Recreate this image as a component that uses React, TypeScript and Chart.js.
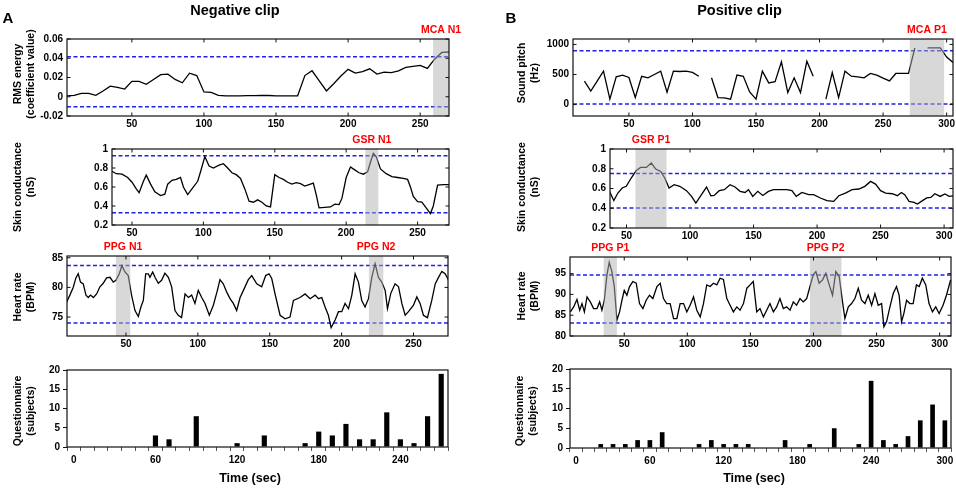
import { useEffect, useRef } from "react"
import { Chart, registerables } from "chart.js"

Chart.register(...registerables)

const FONT = "'Liberation Sans', Arial, Helvetica, sans-serif"

// ---------- A: negative clip ----------
const rmsTime = [5, 10, 15, 20, 25, 30, 35, 40, 45, 50, 55, 60, 65, 70, 75, 80, 85, 90, 95, 100, 105, 110, 115, 120, 125, 130, 135, 140, 145, 150, 155, 160, 165, 170, 175, 180, 185, 190, 195, 200, 205, 210, 215, 220, 225, 230, 235, 240, 245, 250, 255, 260, 265, 270]
const rmsValue = [0.001, 0.0015, 0.0035, 0.0035, 0.0015, 0.006, 0.011, 0.0098, 0.008, 0.016, 0.016, 0.013, 0.018, 0.023, 0.0235, 0.018, 0.0145, 0.0245, 0.022, 0.005, 0.0045, 0.0015, 0.001, 0.001, 0.001, 0.0012, 0.0012, 0.0015, 0.0013, 0.001, 0.001, 0.001, 0.001, 0.022, 0.027, 0.0165, 0.006, 0.0135, 0.0215, 0.0285, 0.0245, 0.026, 0.029, 0.0235, 0.0255, 0.025, 0.027, 0.0305, 0.0315, 0.0325, 0.0295, 0.039, 0.046, 0.0465]

const scNegTime = [36, 39, 43, 47, 50, 53, 55, 58, 60, 63, 66, 70, 73, 75, 78, 81, 84, 86, 89, 92, 96, 98, 101, 104, 107, 111, 114, 117, 120, 123, 126, 129, 132, 135, 138, 141, 144, 147, 150, 153, 156, 159, 162, 165, 168, 171, 174, 177, 179, 181, 185, 189, 192, 195, 197, 200, 203, 206, 209, 212, 215, 217, 219, 221, 224, 228, 232, 236, 240, 243, 245, 247, 250, 253, 256, 259, 261, 264, 268, 272]
const scNegValue = [0.765, 0.74, 0.735, 0.7, 0.65, 0.58, 0.54, 0.66, 0.725, 0.63, 0.55, 0.51, 0.525, 0.63, 0.67, 0.68, 0.7, 0.6, 0.52, 0.58, 0.66, 0.76, 0.92, 0.82, 0.8, 0.83, 0.845, 0.8, 0.75, 0.73, 0.69, 0.58, 0.45, 0.44, 0.465, 0.44, 0.4, 0.39, 0.73, 0.7, 0.68, 0.65, 0.63, 0.645, 0.635, 0.61, 0.625, 0.64, 0.52, 0.38, 0.385, 0.39, 0.42, 0.415, 0.48, 0.7, 0.81, 0.78, 0.75, 0.735, 0.76, 0.86, 0.955, 0.92, 0.79, 0.74, 0.71, 0.7, 0.69, 0.68, 0.6, 0.5, 0.445, 0.44, 0.38, 0.32, 0.4, 0.62, 0.625, 0.625]

const hrNegTime = [8.7, 11.0, 13.3, 15.2, 16.8, 18.4, 20.3, 22.2, 23.8, 25.4, 27.3, 29.6, 31.9, 34.2, 36.5, 38.9, 41.2, 43.0, 45.4, 47.2, 49.3, 51.6, 53.9, 56.3, 58.6, 60.4, 62.1, 63.7, 65.5, 66.7, 68.6, 70.2, 72.5, 74.8, 77.1, 79.5, 81.8, 84.1, 86.4, 88.7, 91.1, 93.4, 95.7, 98.0, 100.3, 102.7, 105.0, 108.0, 110.8, 113.6, 115.4, 117.7, 120.1, 122.4, 124.7, 127.0, 129.4, 131.7, 135.1, 137.5, 141.0, 144.4, 147.2, 149.5, 151.4, 153.7, 157.2, 160.7, 164.1, 166.5, 171.1, 174.6, 178.1, 181.6, 183.9, 186.2, 188.5, 190.8, 192.7, 195.5, 197.8, 200.1, 202.4, 204.8, 207.1, 209.4, 211.7, 214.0, 216.3, 218.7, 221.0, 223.3, 225.6, 227.9, 230.3, 231.9, 234.2, 237.2, 239.6, 241.9, 244.2, 246.5, 250.0, 252.3, 254.6, 256.9, 259.7, 262.7, 265.1, 267.4, 269.7, 272.0, 274.4]
const hrNegBpm = [77.5, 78.7, 80, 81.6, 82.3, 80.9, 80.6, 78.7, 78.3, 78.7, 78.3, 78.9, 80.1, 80.7, 81.6, 81.7, 80.9, 81.2, 82.3, 83.7, 82.6, 82, 78.7, 76.1, 75.1, 76.7, 77.8, 82.3, 82.3, 81.7, 82.6, 81.7, 80.7, 81.2, 82.4, 81.7, 80.1, 76.1, 75.3, 74.9, 78.9, 78.3, 78.7, 77.3, 79.5, 78.3, 77.3, 75.3, 77, 79.5, 81.3, 80.6, 79.2, 78.1, 77.3, 76.1, 78.3, 79.5, 81.3, 82, 80.6, 80.1, 82, 82.3, 81.5, 78.9, 75.3, 74.7, 75, 77.8, 78.3, 78.9, 78.1, 78.7, 78.1, 78.3, 76.7, 75.3, 73.2, 74.5, 75.9, 75.9, 77.3, 76.4, 78.7, 82.3, 80.9, 77.8, 76.7, 78.1, 81.7, 84, 81.7, 80.9, 79.5, 76.4, 79, 80.6, 80.1, 77.3, 75.3, 75.9, 77, 78.4, 77.3, 75.3, 74.9, 77.8, 80.6, 81.7, 82.7, 82.3, 81.2]

const negBins = [0, 10, 20, 30, 40, 50, 60, 70, 80, 90, 100, 110, 120, 130, 140, 150, 160, 170, 180, 190, 200, 210, 220, 230, 240, 250, 260, 270]
const negCounts = [0, 0, 0, 0, 0, 0, 3, 2, 0, 8, 0, 0, 1, 0, 3, 0, 0, 1, 4, 3, 6, 2, 2, 9, 2, 1, 8, 19]

// ---------- B: positive clip ----------
const pitchTime = [15, 20, 25, 30, 35, 40, 45, 50, 55, 60, 65, 70, 75, 80, 85, 90, 95, 100, 105, 110, 115, 120, 125, 130, 135, 140, 145, 150, 155, 160, 165, 170, 175, 180, 185, 190, 195, 200, 205, 210, 215, 220, 225, 230, 235, 240, 245, 250, 255, 260, 265, 270, 275, 280, 285, 290, 295, 300, 305]
const pitchHz = [390, 225, 390, 556, 90, 460, 490, 450, 117, 470, 445, 500, 556, 205, 556, 550, 556, 535, 470, null, 445, 117, 110, 90, 490, 470, 210, 90, 556, 360, 380, 710, 200, 445, 200, 720, 470, null, 90, 533, 117, 556, 472, 460, 444, 517, 489, 440, 394, 517, 517, 517, 944, null, 944, 944, 944, 790, 700]

const scPosTime = [36.6, 40, 43.2, 46.6, 49.8, 53.7, 57.7, 61.1, 65.6, 69.5, 73, 76.9, 80.1, 83.5, 87.5, 91.9, 97.2, 101.2, 104.6, 109, 113, 116.4, 119, 123, 127, 131.5, 135.4, 139.4, 143.3, 146, 149.4, 153.3, 157.3, 161.7, 165.7, 171, 176.2, 180.2, 183.6, 188.1, 193.4, 197.3, 202.6, 207.8, 213.1, 217.1, 222.3, 227.6, 232.9, 237.6, 242.1, 246, 250, 254, 259.2, 263.2, 266.4, 269, 272.4, 276.3, 279, 282.1, 286.3, 289.5, 292.7, 296.9, 300.6, 304, 307.4]
const scPosValue = [0.571, 0.477, 0.554, 0.605, 0.622, 0.706, 0.783, 0.814, 0.814, 0.858, 0.797, 0.773, 0.706, 0.605, 0.638, 0.622, 0.578, 0.52, 0.453, 0.537, 0.615, 0.527, 0.53, 0.578, 0.588, 0.638, 0.615, 0.571, 0.56, 0.588, 0.52, 0.571, 0.53, 0.571, 0.588, 0.588, 0.588, 0.578, 0.52, 0.56, 0.537, 0.537, 0.504, 0.477, 0.47, 0.527, 0.554, 0.588, 0.595, 0.622, 0.672, 0.645, 0.578, 0.554, 0.547, 0.527, 0.56, 0.537, 0.47, 0.46, 0.443, 0.47, 0.504, 0.51, 0.547, 0.52, 0.544, 0.52, 0.527]

const hrPosTime = [7.3, 9.9, 12.5, 14.7, 16.5, 18.4, 20.5, 23.1, 25.7, 28.4, 30.5, 32.3, 34.2, 36.3, 38.1, 40.2, 42.1, 44.2, 46.3, 48.2, 50, 52.1, 54.2, 56.8, 59.5, 62.1, 64.8, 67.4, 70, 72.7, 75.9, 78.5, 81.1, 83.7, 86.4, 89.1, 91.7, 94.3, 97, 99.6, 102.2, 104.9, 107.5, 110.2, 112.8, 115.4, 118.1, 120.7, 123.4, 126, 128.6, 131.3, 133.9, 136.5, 139.2, 141.8, 144.5, 147.2, 149.7, 152.3, 155, 157.6, 160.3, 162.9, 165.5, 168.2, 170.8, 173.4, 176.1, 178.7, 181.4, 184, 186.6, 189.3, 191.9, 194.6, 197.2, 199.8, 201.9, 204.5, 207.2, 209.8, 212.5, 215.1, 217.7, 220.4, 223, 224.9, 227.6, 230.2, 232.8, 235.5, 238.1, 240.8, 243.4, 246.1, 248.7, 251.3, 254, 255.8, 257.9, 260.6, 263.2, 265.8, 267.9, 269.8, 271.6, 273.8, 276.4, 279, 281.6, 283.8, 286.3, 289, 291.6, 294.3, 296.9, 299.6, 302.7, 305.4, 308.7]
const hrPosBpm = [85.8, 87, 88.8, 86.2, 87.8, 85.8, 89.4, 88.2, 86.6, 86.6, 88.2, 86.2, 88.6, 94.7, 97.7, 95.5, 91.9, 83.8, 85.8, 88.6, 91, 89.8, 91.9, 93.1, 92.7, 87.8, 86.6, 88.6, 89.8, 89, 91.9, 92.7, 89, 87.8, 87.8, 84.2, 84.2, 87.8, 87.8, 85.8, 87.4, 89.4, 86.2, 84.6, 87.8, 92.3, 91.9, 92.7, 92.3, 93.9, 93.6, 89, 87.4, 85.8, 87, 86.2, 87.8, 91.5, 92.3, 93.1, 85.8, 86.6, 84.6, 86.2, 87.8, 85.8, 87, 89, 86.6, 87, 86.2, 88.2, 87.4, 89, 88.2, 89, 91.9, 94.7, 95.5, 92.7, 93.5, 95.1, 92.3, 89.8, 95.5, 94.3, 88.2, 84.2, 87, 87.8, 89, 91.5, 88.6, 87.8, 89.8, 87.4, 90.2, 87.4, 87.8, 82.2, 83.4, 87, 90.2, 91.9, 89.8, 83.4, 85.4, 88.6, 87.8, 87.8, 92.3, 91.9, 93.9, 92.3, 87.8, 85.8, 87, 85.4, 87.4, 89.8, 93.5]

const posBins = [0, 10, 20, 30, 40, 50, 60, 70, 80, 90, 100, 110, 120, 130, 140, 150, 160, 170, 180, 190, 200, 210, 220, 230, 240, 250, 260, 270, 280, 290, 300]
const posCounts = [0, 0, 1, 1, 1, 2, 2, 4, 0, 0, 1, 2, 1, 1, 1, 0, 0, 2, 0, 1, 0, 5, 0, 1, 17, 2, 1, 3, 7, 11, 7]

// tick labels
const ticks50neg = [50, 100, 150, 200, 250]
const ticks50pos = [50, 100, 150, 200, 250, 300]
const rmsTicks = [-0.02, 0, 0.02, 0.04, 0.06]
const scTicks = [0.2, 0.4, 0.6, 0.8, 1]
const hrNegTicks = [75, 80, 85]
const pitchTicks = [0, 500, 1000]
const hrPosTicks = [80, 85, 90, 95]
const countTicks = [0, 5, 10, 15, 20]

type Band = { from: number; to: number; label: string }

type LineSpec = {
  kind: "line"
  box: number[]
  xRange: number[]
  yRange: number[]
  xTicks: number[]
  yTicks: number[]
  times: number[]
  values: (number | null)[]
  limits: number[]
  bands: Band[]
}

type BarSpec = {
  kind: "bar"
  box: number[]
  bins: number[]
  counts: number[]
  yTicks: number[]
}

type Spec = LineSpec | BarSpec

const panels: Spec[] = [
  { kind: "line", box: [67, 39, 449, 116], xRange: [5, 270], yRange: [-0.02, 0.06], xTicks: ticks50neg, yTicks: rmsTicks, times: rmsTime, values: rmsValue, limits: [0.0415, -0.0103], bands: [{ from: 259, to: 270, label: "MCA N1" }] },
  { kind: "line", box: [112, 149, 449, 225], xRange: [36, 272], yRange: [0.2, 1], xTicks: ticks50neg, yTicks: scTicks, times: scNegTime, values: scNegValue, limits: [0.93, 0.33], bands: [{ from: 213.5, to: 222.5, label: "GSR N1" }] },
  { kind: "line", box: [67, 256, 448, 336], xRange: [9, 274], yRange: [71.8, 85.3], xTicks: ticks50neg, yTicks: hrNegTicks, times: hrNegTime, values: hrNegBpm, limits: [83.7, 74], bands: [{ from: 43, to: 53, label: "PPG N1" }, { from: 219, to: 229, label: "PPG N2" }] },
  { kind: "bar", box: [67, 369, 448, 447], bins: negBins, counts: negCounts, yTicks: countTicks },
  { kind: "line", box: [573, 39, 953, 116], xRange: [6, 305], yRange: [-190, 1090], xTicks: ticks50pos, yTicks: pitchTicks, times: pitchTime, values: pitchHz, limits: [895, 10], bands: [{ from: 271, to: 298, label: "MCA P1" }] },
  { kind: "line", box: [610, 149, 953, 228], xRange: [37, 307], yRange: [0.2, 1], xTicks: ticks50pos, yTicks: scTicks, times: scPosTime, values: scPosValue, limits: [0.753, 0.402], bands: [{ from: 57, to: 81.5, label: "GSR P1" }] },
  { kind: "line", box: [570, 257, 951, 336], xRange: [7, 309], yRange: [80, 99], xTicks: ticks50pos, yTicks: hrPosTicks, times: hrPosTime, values: hrPosBpm, limits: [94.7, 83.1], bands: [{ from: 33.7, to: 44.2, label: "PPG P1" }, { from: 197.2, to: 222.2, label: "PPG P2" }] },
  { kind: "bar", box: [570, 368, 951, 448], bins: posBins, counts: posCounts, yTicks: countTicks },
]

const PAD_L = 60
const PAD_R = 30

function pads(spec: Spec) {
  return spec.kind === "line" ? { top: 20, bottom: 20 } : { top: 8, bottom: 24 }
}

const tickFont = { family: FONT, size: 10, weight: "bold" as const }

function decorPlugin(spec: Spec) {
  return {
    id: "decor",
    beforeDatasetsDraw(chart: any) {
      if (spec.kind !== "line") return
      const { ctx, chartArea: a, scales } = chart
      ctx.save()
      ctx.strokeStyle = "#2020e8"
      ctx.lineWidth = 1.5
      ctx.setLineDash([4, 2.5])
      for (const v of spec.limits) {
        const y = scales.y.getPixelForValue(v)
        ctx.beginPath()
        ctx.moveTo(a.left, y)
        ctx.lineTo(a.right, y)
        ctx.stroke()
      }
      ctx.restore()
    },
    afterDatasetsDraw(chart: any) {
      if (spec.kind !== "line") return
      const { ctx, chartArea: a, scales } = chart
      ctx.save()
      for (const b of spec.bands) {
        const x0 = Math.max(a.left, scales.x.getPixelForValue(b.from))
        const x1 = Math.min(a.right, scales.x.getPixelForValue(b.to))
        ctx.fillStyle = "rgba(178,178,178,0.5)"
        ctx.fillRect(x0, a.top, x1 - x0, a.bottom - a.top)
        ctx.fillStyle = "#ff0000"
        ctx.font = `bold 10.5px ${FONT}`
        ctx.textAlign = "center"
        ctx.textBaseline = "middle"
        ctx.fillText(b.label, (x0 + x1) / 2, a.top - 9)
      }
      ctx.restore()
    },
    afterDraw(chart: any) {
      const { ctx, chartArea: a, scales } = chart
      ctx.save()
      ctx.strokeStyle = "#111"
      ctx.lineWidth = 1.2
      ctx.strokeRect(a.left, a.top, a.right - a.left, a.bottom - a.top)
      if (spec.kind === "line") {
        const len = 3.5
        ctx.lineWidth = 1
        ctx.beginPath()
        for (const t of scales.x.ticks) {
          const x = scales.x.getPixelForValue(t.value)
          ctx.moveTo(x, a.bottom)
          ctx.lineTo(x, a.bottom - len)
          ctx.moveTo(x, a.top)
          ctx.lineTo(x, a.top + len)
        }
        for (const t of scales.y.ticks) {
          const y = scales.y.getPixelForValue(t.value)
          ctx.moveTo(a.left, y)
          ctx.lineTo(a.left + len, y)
          ctx.moveTo(a.right, y)
          ctx.lineTo(a.right - len, y)
        }
        ctx.stroke()
      }
      ctx.restore()
    },
  }
}

function buildConfig(spec: Spec): any {
  const p = pads(spec)
  const common = {
    animation: false,
    responsive: true,
    maintainAspectRatio: false,
    events: [],
    layout: { padding: { left: 0, top: p.top, right: PAD_R, bottom: 0 } },
    plugins: { legend: { display: false }, tooltip: { enabled: false } },
  }
  if (spec.kind === "line") {
    return {
      type: "line",
      data: {
        datasets: [
          {
            data: spec.times.map((t, i) => ({ x: t, y: spec.values[i] })),
            borderColor: "#000",
            borderWidth: 1.3,
            pointRadius: 0,
            tension: 0,
            fill: false,
            spanGaps: false,
          },
        ],
      },
      options: {
        ...common,
        scales: {
          x: {
            type: "linear",
            min: spec.xRange[0],
            max: spec.xRange[1],
            grid: { display: false, drawTicks: false },
            border: { display: false },
            afterBuildTicks: (s: any) => {
              s.ticks = spec.xTicks.map((v) => ({ value: v }))
            },
            afterFit: (s: any) => {
              s.height = p.bottom
            },
            ticks: { autoSkip: false, maxRotation: 0, padding: 2, color: "#000", font: tickFont, callback: (v: number) => String(v) },
          },
          y: {
            type: "linear",
            min: spec.yRange[0],
            max: spec.yRange[1],
            grid: { display: false, drawTicks: false },
            border: { display: false },
            afterBuildTicks: (s: any) => {
              s.ticks = spec.yTicks.map((v) => ({ value: v }))
            },
            afterFit: (s: any) => {
              s.width = PAD_L
            },
            ticks: { padding: 4, color: "#000", font: tickFont, callback: (v: number) => String(v) },
          },
        },
      },
      plugins: [decorPlugin(spec)],
    }
  }
  return {
    type: "bar",
    data: {
      labels: spec.bins.map(String),
      datasets: [{ data: spec.counts, backgroundColor: "#000", barPercentage: 0.38, categoryPercentage: 1 }],
    },
    options: {
      ...common,
      scales: {
        x: {
          type: "category",
          offset: true,
          grid: { display: true, drawOnChartArea: false, drawTicks: true, tickLength: 4, offset: true, color: "#555" },
          border: { display: false },
          afterFit: (s: any) => {
            s.height = p.bottom
          },
          ticks: {
            autoSkip: false,
            maxRotation: 0,
            minRotation: 0,
            padding: 3,
            color: "#000",
            font: tickFont,
            callback: (_v: number, i: number) => (spec.bins[i] % 60 === 0 ? String(spec.bins[i]) : ""),
          },
        },
        y: {
          min: 0,
          max: 20,
          grid: { display: true, drawOnChartArea: false, drawTicks: true, tickLength: 4, color: "#111" },
          border: { display: false },
          afterBuildTicks: (s: any) => {
            s.ticks = spec.yTicks.map((v) => ({ value: v }))
          },
          afterFit: (s: any) => {
            s.width = PAD_L
          },
          ticks: { padding: 3, color: "#000", font: tickFont, callback: (v: number) => String(v) },
        },
      },
    },
    plugins: [decorPlugin(spec)],
  }
}

function Panel({ spec }: { spec: Spec }) {
  const canvasRef = useRef<HTMLCanvasElement>(null)

  useEffect(() => {
    if (!canvasRef.current) return
    const chart = new Chart(canvasRef.current, buildConfig(spec))
    return () => chart.destroy()
  }, [spec])

  const [l, t, r, b] = spec.box
  const p = pads(spec)
  return (
    <div
      style={{
        position: "absolute",
        left: l - PAD_L,
        top: t - p.top,
        width: r - l + PAD_L + PAD_R,
        height: b - t + p.top + p.bottom,
      }}
    >
      <canvas ref={canvasRef} />
    </div>
  )
}

const labels = [
  { text: "A", x: 8, y: 17, size: 15 },
  { text: "B", x: 511, y: 17, size: 15 },
  { text: "Negative clip", x: 235, y: 10, size: 14.5 },
  { text: "Positive clip", x: 739.5, y: 10, size: 14.5 },
  { text: "Time (sec)", x: 250, y: 478, size: 12.5 },
  { text: "Time (sec)", x: 754, y: 478, size: 12.5 },
]

const axisTitles = [
  { lines: ["RMS energy", "(coefficient value)"], x: 23, y: 74 },
  { lines: ["Skin conductance", "(nS)"], x: 23, y: 187 },
  { lines: ["Heart rate", "(BPM)"], x: 23, y: 297 },
  { lines: ["Questionnaire", "(subjects)"], x: 23, y: 411 },
  { lines: ["Sound pitch", "(Hz)"], x: 527, y: 73 },
  { lines: ["Skin conductance", "(nS)"], x: 527, y: 187 },
  { lines: ["Heart rate", "(BPM)"], x: 527, y: 296 },
  { lines: ["Questionnaire", "(subjects)"], x: 525, y: 411 },
]

export default function App() {
  return (
    <div
      style={{
        position: "absolute",
        left: 0,
        top: 0,
        width: 956,
        height: 489,
        overflow: "hidden",
        background: "#fff",
        fontFamily: FONT,
        fontWeight: 700,
        color: "#000",
      }}
    >
      {panels.map((s, i) => (
        <Panel key={i} spec={s} />
      ))}
      {labels.map((lb, i) => (
        <div
          key={"l" + i}
          style={{
            position: "absolute",
            left: lb.x,
            top: lb.y,
            transform: "translate(-50%, -50%)",
            fontSize: lb.size,
            lineHeight: 1,
            whiteSpace: "nowrap",
          }}
        >
          {lb.text}
        </div>
      ))}
      {axisTitles.map((at, i) => (
        <div
          key={"a" + i}
          style={{
            position: "absolute",
            left: at.x,
            top: at.y,
            transform: "translate(-50%, -50%) rotate(-90deg)",
            fontSize: 10.5,
            lineHeight: "12.5px",
            whiteSpace: "nowrap",
            textAlign: "center",
          }}
        >
          {at.lines.map((ln, j) => (
            <div key={j}>{ln}</div>
          ))}
        </div>
      ))}
    </div>
  )
}
